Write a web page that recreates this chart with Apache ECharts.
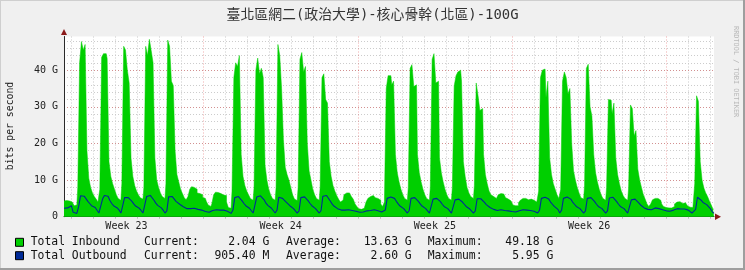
<!DOCTYPE html>
<html><head><meta charset="utf-8">
<script src="https://cdn.jsdelivr.net/npm/echarts@6/dist/echarts.min.js"></script>
<style>html,body{margin:0;padding:0;background:#F0F0F0;}#c{width:745px;height:270px;}</style>
</head><body><div id="c"></div>
<script>
const chartTitle = '臺北區網二(政治大學)-核心骨幹(北區)-100G';
const yAxisTitle = 'bits per second';
const watermark = 'RRDTOOL / TOBI OETIKER';
// samples every 2 hours, hours counted from Monday 00:00 of Week 23
const startHour = 16, stepHours = 2;
const inbound = [
 4.3,4.4,4.2,4.3,
 4.0,3.6,3.0,3.2,8.0,42,47.8,45.5,47,18,10.5,8,
 6.5,5.5,4.8,4.0,7.5,43.5,44.5,44.5,43.2,15,11,9,
 7.5,6.0,5.0,4.5,9.0,46.5,45.5,40.0,36.5,16,11,8.5,
 7.0,6.0,5.2,4.8,8.0,46.5,44,48.4,45.3,42,16,10,
 8.0,6.5,5.5,5.0,9.0,48.2,46.5,37,35.8,18,11.5,9.5,
 7.5,6.3,5.2,4.6,5.5,7.5,8.2,8.0,7.5,6.5,6.3,6.0,
 5.3,5.0,4.2,3.2,2.8,3.5,6.0,6.7,6.6,6.3,6.0,5.9,
 5.8,4.0,2.5,2.3,7.0,38,42,41,44,17,11,8.5,
 7.0,6.0,5.0,4.5,8.0,40,43.3,39,40.5,38,14,10,
 7.5,6.0,5.0,4.5,8.0,47,44,35,21,13.5,11.5,10,
 8.0,6.0,4.8,4.4,8.0,43,44.8,39.5,41,20,12.5,10,
 7.5,6.0,5.0,4.5,8.0,38,39,32,31,15,11,8.5,
 7.0,5.8,4.8,4.0,4.5,6.0,6.5,6.5,6.3,5.5,4.8,3.5,
 2.8,2.2,2.0,2.3,2.8,4.0,5.0,5.5,5.8,5.6,5.2,5.0,
 4.5,3.5,2.8,4.0,35,38.5,38.5,36,37,17,12,9.5,
 7.5,6.0,5.0,4.5,8.0,40.5,41.5,35.5,36,17,12,9.5,
 7.5,6.0,5.0,4.5,8.0,43,44.5,36.5,37,16,12,9.5,
 7.5,6.0,5.0,4.5,8.0,35.7,38.5,39.5,40,37,15,11,
 8.0,6.5,5.5,5.0,8.5,36.5,33,29,29.5,17,11.5,9,
 7.0,6.0,5.5,5.0,5.0,6.0,6.3,6.2,5.8,5.2,4.8,4.3,
 3.8,3.2,3.0,3.0,3.8,4.5,5.0,5.0,4.8,4.6,4.8,4.8,
 4.5,4.0,3.5,7.0,38,40,40.3,32.5,37,16,11.5,9,
 7.5,6.0,5.0,7.5,37,39.5,38,33.5,35,20,12.5,10,
 8.0,6.5,5.2,4.8,8.5,40.5,41.6,30,27.5,17,12,9.5,
 7.5,6.0,5.0,4.5,8.0,32,31.8,28,31,16,11.5,9,
 7.0,5.8,5.0,4.5,8.0,30.5,29.5,22,23.5,13,10,8,
 6.0,4.8,3.5,2.8,3.5,4.6,5.0,5.0,4.8,4.5,3.5,2.8,
 2.5,2.4,2.3,2.4,2.8,3.5,4.0,4.1,3.8,3.6,3.8,3.7,
 3.0,2.6,2.5,3.0,9.0,33,31.5,15,10,7.8,6.5,5.5,
 4.3,3.2,2.04
];
const outbound = [
 2.3,2.5,2.4,2.6,
 3.0,1.2,0.8,0.9,2.8,5.7,5.8,5.6,5.3,4.2,3.6,3.0,
 2.6,2.5,2.0,1.0,0.9,4.8,5.8,5.7,5.6,4.4,3.6,3.0,
 2.7,2.4,1.8,1.0,1.5,5.2,5.3,5.2,5.0,4.2,3.5,2.9,
 2.6,2.3,1.7,1.0,1.5,5.5,5.9,5.8,5.6,4.5,3.7,3.1,
 2.7,2.4,1.8,1.0,1.6,5.4,5.6,5.5,5.2,4.2,3.7,3.4,
 3.0,2.7,2.4,2.2,2.0,2.2,2.4,2.3,2.2,2.0,1.9,1.8,
 1.6,1.4,1.3,1.2,1.4,1.7,2.0,1.9,1.8,1.8,1.7,1.8,
 1.7,1.5,1.2,0.9,1.8,5.2,5.6,5.5,5.4,4.3,3.6,3.0,
 2.6,2.3,1.8,1.0,1.5,5.4,5.8,5.7,5.5,4.6,3.7,3.1,
 2.7,2.3,1.8,1.0,1.8,5.3,5.4,5.0,4.6,4.0,3.5,3.0,
 2.6,2.2,1.7,1.0,1.6,5.2,5.5,5.4,5.2,4.3,3.6,3.0,
 2.6,2.2,1.8,1.0,1.7,5.6,5.95,5.8,5.3,4.3,3.5,2.9,
 2.5,2.2,2.0,1.8,1.7,1.8,1.9,1.9,1.8,1.7,1.6,1.5,
 1.3,1.2,1.2,1.3,1.4,1.6,1.8,1.7,1.8,1.9,1.7,1.6,
 1.5,1.3,1.0,1.8,5.0,5.5,5.4,5.3,5.0,4.2,3.5,2.9,
 2.6,2.2,1.8,1.0,1.7,5.0,5.3,5.2,5.0,4.2,3.5,2.9,
 2.6,2.2,1.7,1.0,1.5,4.8,5.0,5.0,4.8,4.1,3.4,2.8,
 2.5,2.2,1.7,1.0,1.5,4.6,4.8,4.8,4.7,4.0,3.4,2.8,
 2.5,2.1,1.7,1.0,1.6,4.9,5.0,4.9,4.6,3.9,3.3,2.8,
 2.5,2.2,2.0,1.8,1.7,1.8,1.9,1.8,1.7,1.7,1.6,1.5,
 1.4,1.3,1.3,1.4,1.6,1.8,1.9,1.9,1.8,1.8,1.7,1.6,
 1.5,1.2,1.0,1.8,5.0,5.3,5.3,5.1,4.8,4.0,3.4,2.8,
 2.4,2.0,1.0,1.8,5.0,5.4,5.4,5.2,4.8,4.0,3.4,2.8,
 2.5,2.2,1.8,1.0,1.6,5.0,5.3,5.2,4.9,4.1,3.4,2.8,
 2.5,2.2,1.7,1.0,1.6,5.1,5.4,5.3,5.0,4.1,3.4,2.8,
 2.5,2.2,1.7,1.0,1.5,4.6,4.8,4.8,4.5,3.8,3.2,2.7,
 2.4,2.2,2.0,1.8,1.9,2.2,2.4,2.3,2.2,2.0,1.9,1.7,
 1.6,1.5,1.5,1.6,1.8,2.0,2.2,2.3,2.1,2.0,2.1,2.0,
 1.8,1.5,1.0,0.9,2.0,5.3,5.4,4.5,3.9,3.6,3.3,2.8,
 2.2,1.4,0.905
];
const weekLabelHours = [84, 252, 420, 588];
const weekLabels = ['Week 23', 'Week 24', 'Week 25', 'Week 26'];
const yTicks = [0, 10, 20, 30, 40];
const yTickLabels = ['0', '10 G', '20 G', '30 G', '40 G'];
const yMax = 49.18;
const legendNames = ['Total Inbound', 'Total Outbound'];
const legendCurrent = ['2.04 G', '905.40 M'];
const legendAverage = ['13.63 G', '2.60 G'];
const legendMaximum = ['49.18 G', '5.95 G'];
const seriesColors = ['#00CF00', '#002A97'];

const hours = inbound.map((_, i) => String(startHour + stepHours * i));
const MONO = '"DejaVu Sans Mono", "Noto Sans CJK TC", monospace';
const gridL = 64, gridR = 714, gridT = 36.5, gridB = 216.7;

const chart = echarts.init(document.getElementById('c'), null, {renderer: 'canvas'});

const legendGraphics = [];
legendNames.forEach((name, r) => {
  const cy = 242.3 + r * 13.4;
  legendGraphics.push(
    {type: 'rect', shape: {x: 15.5, y: cy - 4, width: 8, height: 8}, style: {fill: seriesColors[r], stroke: '#000', lineWidth: 1}},
    {type: 'text', x: 30.7, y: cy, style: {text: name, font: '11.4px ' + MONO, fill: '#111', align: 'left', verticalAlign: 'middle'}},
    {type: 'text', x: 144, y: cy, style: {text: 'Current:', font: '11.4px ' + MONO, fill: '#111', align: 'left', verticalAlign: 'middle'}},
    {type: 'text', x: 269.3, y: cy, style: {text: legendCurrent[r], font: '11.4px ' + MONO, fill: '#111', align: 'right', verticalAlign: 'middle'}},
    {type: 'text', x: 286, y: cy, style: {text: 'Average:', font: '11.4px ' + MONO, fill: '#111', align: 'left', verticalAlign: 'middle'}},
    {type: 'text', x: 411.7, y: cy, style: {text: legendAverage[r], font: '11.4px ' + MONO, fill: '#111', align: 'right', verticalAlign: 'middle'}},
    {type: 'text', x: 427.7, y: cy, style: {text: 'Maximum:', font: '11.4px ' + MONO, fill: '#111', align: 'left', verticalAlign: 'middle'}},
    {type: 'text', x: 553.3, y: cy, style: {text: legendMaximum[r], font: '11.4px ' + MONO, fill: '#111', align: 'right', verticalAlign: 'middle'}}
  );
});

const option = {
  animation: false,
  backgroundColor: '#F0F0F0',
  grid: {left: gridL, right: 745 - gridR, top: gridT, bottom: 270 - gridB, containLabel: false, outerBoundsMode: 'none', backgroundColor: '#FFFFFF', show: true, borderWidth: 0},
  xAxis: [
    {
      type: 'category', data: hours, boundaryGap: false, z: 0,
      axisLine: {show: true, lineStyle: {color: '#2a2a2a', width: 1}},
      axisTick: {show: true, length: 2, interval: (i, v) => (+v) % 24 === 0, lineStyle: {color: '#bbbbbb'}},
      axisLabel: {
        show: true, interval: (i, v) => weekLabelHours.indexOf(+v) >= 0,
        formatter: v => weekLabels[weekLabelHours.indexOf(+v)] || '',
        margin: 5, fontFamily: MONO, fontSize: 10, color: '#222'
      },
      splitLine: {show: true, interval: (i, v) => (+v) % 24 === 0 && (+v) % 168 !== 0,
        lineStyle: {color: '#c8c8c8', type: [1, 2], width: 1}}
    },
    {
      type: 'category', data: hours, boundaryGap: false, z: 1,
      axisLine: {show: false}, axisTick: {show: false}, axisLabel: {show: false},
      splitLine: {show: true, interval: (i, v) => (+v) % 168 === 0,
        lineStyle: {color: 'rgba(222,48,48,0.4)', type: [1, 2], width: 1}}
    }
  ],
  yAxis: [
    {
      type: 'value', min: 0, max: yMax, interval: 10, z: 1,
      axisLine: {show: true, lineStyle: {color: '#2a2a2a', width: 1}},
      axisTick: {show: false},
      axisLabel: {
        margin: 6, fontFamily: MONO, fontSize: 10, color: '#222', showMaxLabel: false,
        formatter: v => { const k = yTicks.indexOf(v); return k >= 0 ? yTickLabels[k] : ''; }
      },
      splitLine: {show: true, showMinLine: false, showMaxLine: false,
        lineStyle: {color: 'rgba(222,48,48,0.38)', type: [1, 2], width: 1}}
    },
    {
      type: 'value', min: 0, max: yMax, interval: 2, z: 0,
      axisLine: {show: false}, axisTick: {show: false}, axisLabel: {show: false},
      splitLine: {show: true, showMinLine: false, showMaxLine: false,
        lineStyle: {color: '#cccccc', type: [1, 2], width: 1}}
    }
  ],
  series: [
    {
      name: legendNames[0], type: 'line', data: inbound, xAxisIndex: 0, yAxisIndex: 0,
      symbol: 'none', sampling: null, z: 2, step: 'middle',
      lineStyle: {width: 0.5, color: seriesColors[0]},
      areaStyle: {color: seriesColors[0], opacity: 1}
    },
    {
      name: legendNames[1], type: 'line', data: outbound, xAxisIndex: 0, yAxisIndex: 0,
      symbol: 'none', z: 3,
      lineStyle: {width: 1.1, color: seriesColors[1]}
    }
  ],
  graphic: [
    {type: 'rect', shape: {x: 0, y: 0, width: 745, height: 1}, style: {fill: '#CFCFCF'}, z: 100},
    {type: 'rect', shape: {x: 0, y: 0, width: 1, height: 270}, style: {fill: '#CFCFCF'}, z: 100},
    {type: 'rect', shape: {x: 0, y: 268, width: 745, height: 2}, style: {fill: '#9E9E9E'}, z: 100},
    {type: 'rect', shape: {x: 743, y: 0, width: 2, height: 270}, style: {fill: '#9E9E9E'}, z: 100},
    {type: 'text', x: 372.5, y: 15, style: {text: chartTitle, font: '13.9px ' + MONO, fill: '#333', align: 'center', verticalAlign: 'middle'}},
    {type: 'text', x: 10, y: 126, rotation: Math.PI / 2, style: {text: yAxisTitle, font: '9.8px ' + MONO, fill: '#222', align: 'center', verticalAlign: 'middle'}},
    {type: 'text', x: 736, y: 26, rotation: -Math.PI / 2, style: {text: watermark, font: '6.9px ' + MONO, fill: '#b8b8b8', align: 'left', verticalAlign: 'middle'}},
    {type: 'polygon', shape: {points: [[61, 35], [67, 35], [64, 29]]}, style: {fill: '#8B1A1A'}, z: 50},
    {type: 'polygon', shape: {points: [[715, 213.5], [715, 219.9], [721, 216.7]]}, style: {fill: '#8B1A1A'}, z: 50}
  ].concat(legendGraphics)
};
chart.setOption(option);
</script>
</body></html>
